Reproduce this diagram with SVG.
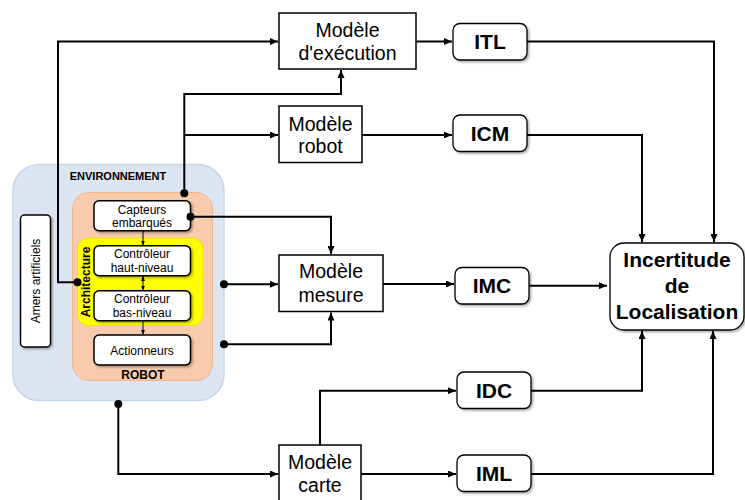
<svg xmlns="http://www.w3.org/2000/svg" width="745" height="500" viewBox="0 0 745 500">
<style>
text{font-family:"Liberation Sans",Arial,sans-serif;fill:#000}
.big{font-size:19.5px;text-anchor:middle}
.ind{font-size:21px;font-weight:bold;text-anchor:middle}
.sm{font-size:12px;text-anchor:middle}
.lbl{font-weight:bold;text-anchor:middle}
.mbox{fill:#fff;stroke:#000;stroke-width:1.5}
.rbox{fill:#fff;stroke:#000;stroke-width:1.5;filter:url(#sh)}
.ibox{fill:#fff;stroke:#000;stroke-width:1.3;filter:url(#sh)}
.con{fill:none;stroke:#000;stroke-width:2}
.thin{fill:none;stroke:#000;stroke-width:1}
</style>
<defs>
<filter id="sh" x="-10%" y="-10%" width="130%" height="130%">
<feDropShadow dx="1.5" dy="1.5" stdDeviation="1" flood-color="#000" flood-opacity="0.35"/>
</filter>
<marker id="ar" markerWidth="8" markerHeight="7" refX="8" refY="3.5" orient="auto" markerUnits="userSpaceOnUse">
<path d="M0,0 L8,3.5 L0,7 z" fill="#000"/>
</marker>
<marker id="as" markerWidth="5" markerHeight="4" refX="5" refY="2" orient="auto-start-reverse" markerUnits="userSpaceOnUse">
<path d="M0,0 L5,2 L0,4 z" fill="#000"/>
</marker>
</defs>

<g id="environnement">
<rect x="13" y="164.5" width="211" height="236" rx="26" fill="#dce6f2" stroke="#c6d7ec" stroke-width="1.5"/>
<text x="118" y="179.5" class="lbl" font-size="11">ENVIRONNEMENT</text>
</g>
<g id="amers">
<rect x="20.5" y="215" width="30" height="132" rx="4" class="rbox"/>
<text class="sm" transform="translate(40 281) rotate(-90)">Amers artificiels</text>
</g>
<g id="robot">
<rect x="72.5" y="192.5" width="140" height="188" rx="16" fill="#f8cbad" stroke="#f2b48d" stroke-width="1"/>
<text x="143" y="378.5" class="lbl" font-size="12">ROBOT</text>
</g>
<g id="architecture">
<rect x="77.5" y="238" width="125.5" height="87.5" rx="11" fill="#ffff00" stroke="#e6e600" stroke-width="1"/>
<text class="lbl" font-size="12" transform="translate(89.5 282) rotate(-90)" fill="#222">Architecture</text>
</g>
<g id="capteurs">
<rect x="94" y="200.7" width="96.5" height="30" rx="5" class="rbox"/>
<text x="142" y="213.5" class="sm">Capteurs</text>
<text x="142" y="226.8" class="sm">embarqués</text>
</g>
<g id="haut-niveau">
<rect x="94" y="245.7" width="96.5" height="30" rx="5" class="rbox"/>
<text x="142" y="257.5" class="sm">Contrôleur</text>
<text x="142" y="271.8" class="sm">haut-niveau</text>
</g>
<g id="bas-niveau">
<rect x="94" y="290.7" width="96.5" height="30" rx="5" class="rbox"/>
<text x="142" y="302.5" class="sm">Contrôleur</text>
<text x="142" y="316.8" class="sm">bas-niveau</text>
</g>
<g id="actionneurs">
<rect x="94" y="335" width="96.5" height="30" rx="5" class="rbox"/>
<text x="142" y="354.5" class="sm">Actionneurs</text>
</g>

<g id="modele-execution">
<rect x="279" y="13" width="137" height="56" class="mbox"/>
<text x="347.5" y="37" class="big">Modèle</text>
<text x="347.5" y="60" class="big">d'exécution</text>
</g>
<g id="modele-robot">
<rect x="279" y="106" width="83" height="56.5" class="mbox"/>
<text x="320.5" y="130.5" class="big">Modèle</text>
<text x="320.5" y="153.3" class="big">robot</text>
</g>
<g id="modele-mesure">
<rect x="279" y="255" width="104" height="56.5" class="mbox"/>
<text x="331" y="278" class="big">Modèle</text>
<text x="331" y="301.7" class="big">mesure</text>
</g>
<g id="modele-carte">
<rect x="279" y="445" width="82" height="60" class="mbox"/>
<text x="320" y="468.5" class="big">Modèle</text>
<text x="320" y="491.5" class="big">carte</text>
</g>
<g id="itl">
<rect x="453" y="23.5" width="74" height="36.5" rx="7" class="ibox"/>
<text x="490" y="48.5" class="ind">ITL</text>
</g>
<g id="icm">
<rect x="453" y="115" width="74" height="36.5" rx="7" class="ibox"/>
<text x="490" y="140.5" class="ind">ICM</text>
</g>
<g id="imc">
<rect x="455" y="267.5" width="74" height="36.5" rx="7" class="ibox"/>
<text x="492" y="293" class="ind">IMC</text>
</g>
<g id="idc">
<rect x="457" y="372" width="74" height="36.5" rx="7" class="ibox"/>
<text x="494" y="397.5" class="ind">IDC</text>
</g>
<g id="iml">
<rect x="457" y="455" width="74" height="36.5" rx="7" class="ibox"/>
<text x="494" y="480.5" class="ind">IML</text>
</g>
<g id="incertitude">
<rect x="610" y="243" width="134" height="87" rx="14" class="ibox"/>
<text x="677" y="266.7" class="ind" font-size="21">Incertitude</text>
<text x="677" y="293" class="ind" font-size="21">de</text>
<text x="677" y="319" class="ind" font-size="21">Localisation</text>
</g>

<g id="connectors">
<path class="con" d="M77.5,282.3 H58 V41.5 H278" marker-end="url(#ar)"/>
<path class="con" d="M184.3,193.3 V94 H341 V70" marker-end="url(#ar)"/>
<path class="con" d="M184.3,135 H278" marker-end="url(#ar)"/>
<path class="con" d="M416,41.5 H452" marker-end="url(#ar)"/>
<path class="con" d="M362,135 H452" marker-end="url(#ar)"/>
<path class="con" d="M527,41.5 H714 V242" marker-end="url(#ar)"/>
<path class="con" d="M527,135 H642 V242" marker-end="url(#ar)"/>
<path class="con" d="M190.5,216.7 H331 V254" marker-end="url(#ar)"/>
<path class="con" d="M224,284.3 H278" marker-end="url(#ar)"/>
<path class="con" d="M224,344.3 H331 V312.5" marker-end="url(#ar)"/>
<path class="con" d="M383,284 H454" marker-end="url(#ar)"/>
<path class="con" d="M529,285.7 H607" marker-end="url(#ar)"/>
<path class="con" d="M118.3,404 V474 H278" marker-end="url(#ar)"/>
<path class="con" d="M320,445 V390.7 H456" marker-end="url(#ar)"/>
<path class="con" d="M361,474 H456" marker-end="url(#ar)"/>
<path class="con" d="M531,390.7 H642 V331" marker-end="url(#ar)"/>
<path class="con" d="M531,474 H713 V331" marker-end="url(#ar)"/>
<path class="thin" d="M143,230.7 V245.5" marker-end="url(#as)"/>
<path class="thin" d="M143,276 V290.5" marker-start="url(#as)" marker-end="url(#as)"/>
<path class="thin" d="M143,320.7 V334.8" marker-end="url(#as)"/>
<circle cx="77.5" cy="282.3" r="4"/>
<circle cx="184.3" cy="193.3" r="4"/>
<circle cx="190.5" cy="216.7" r="4"/>
<circle cx="224" cy="284.3" r="4"/>
<circle cx="224" cy="344.3" r="4"/>
<circle cx="118.3" cy="404" r="4"/>
</g>
</svg>
